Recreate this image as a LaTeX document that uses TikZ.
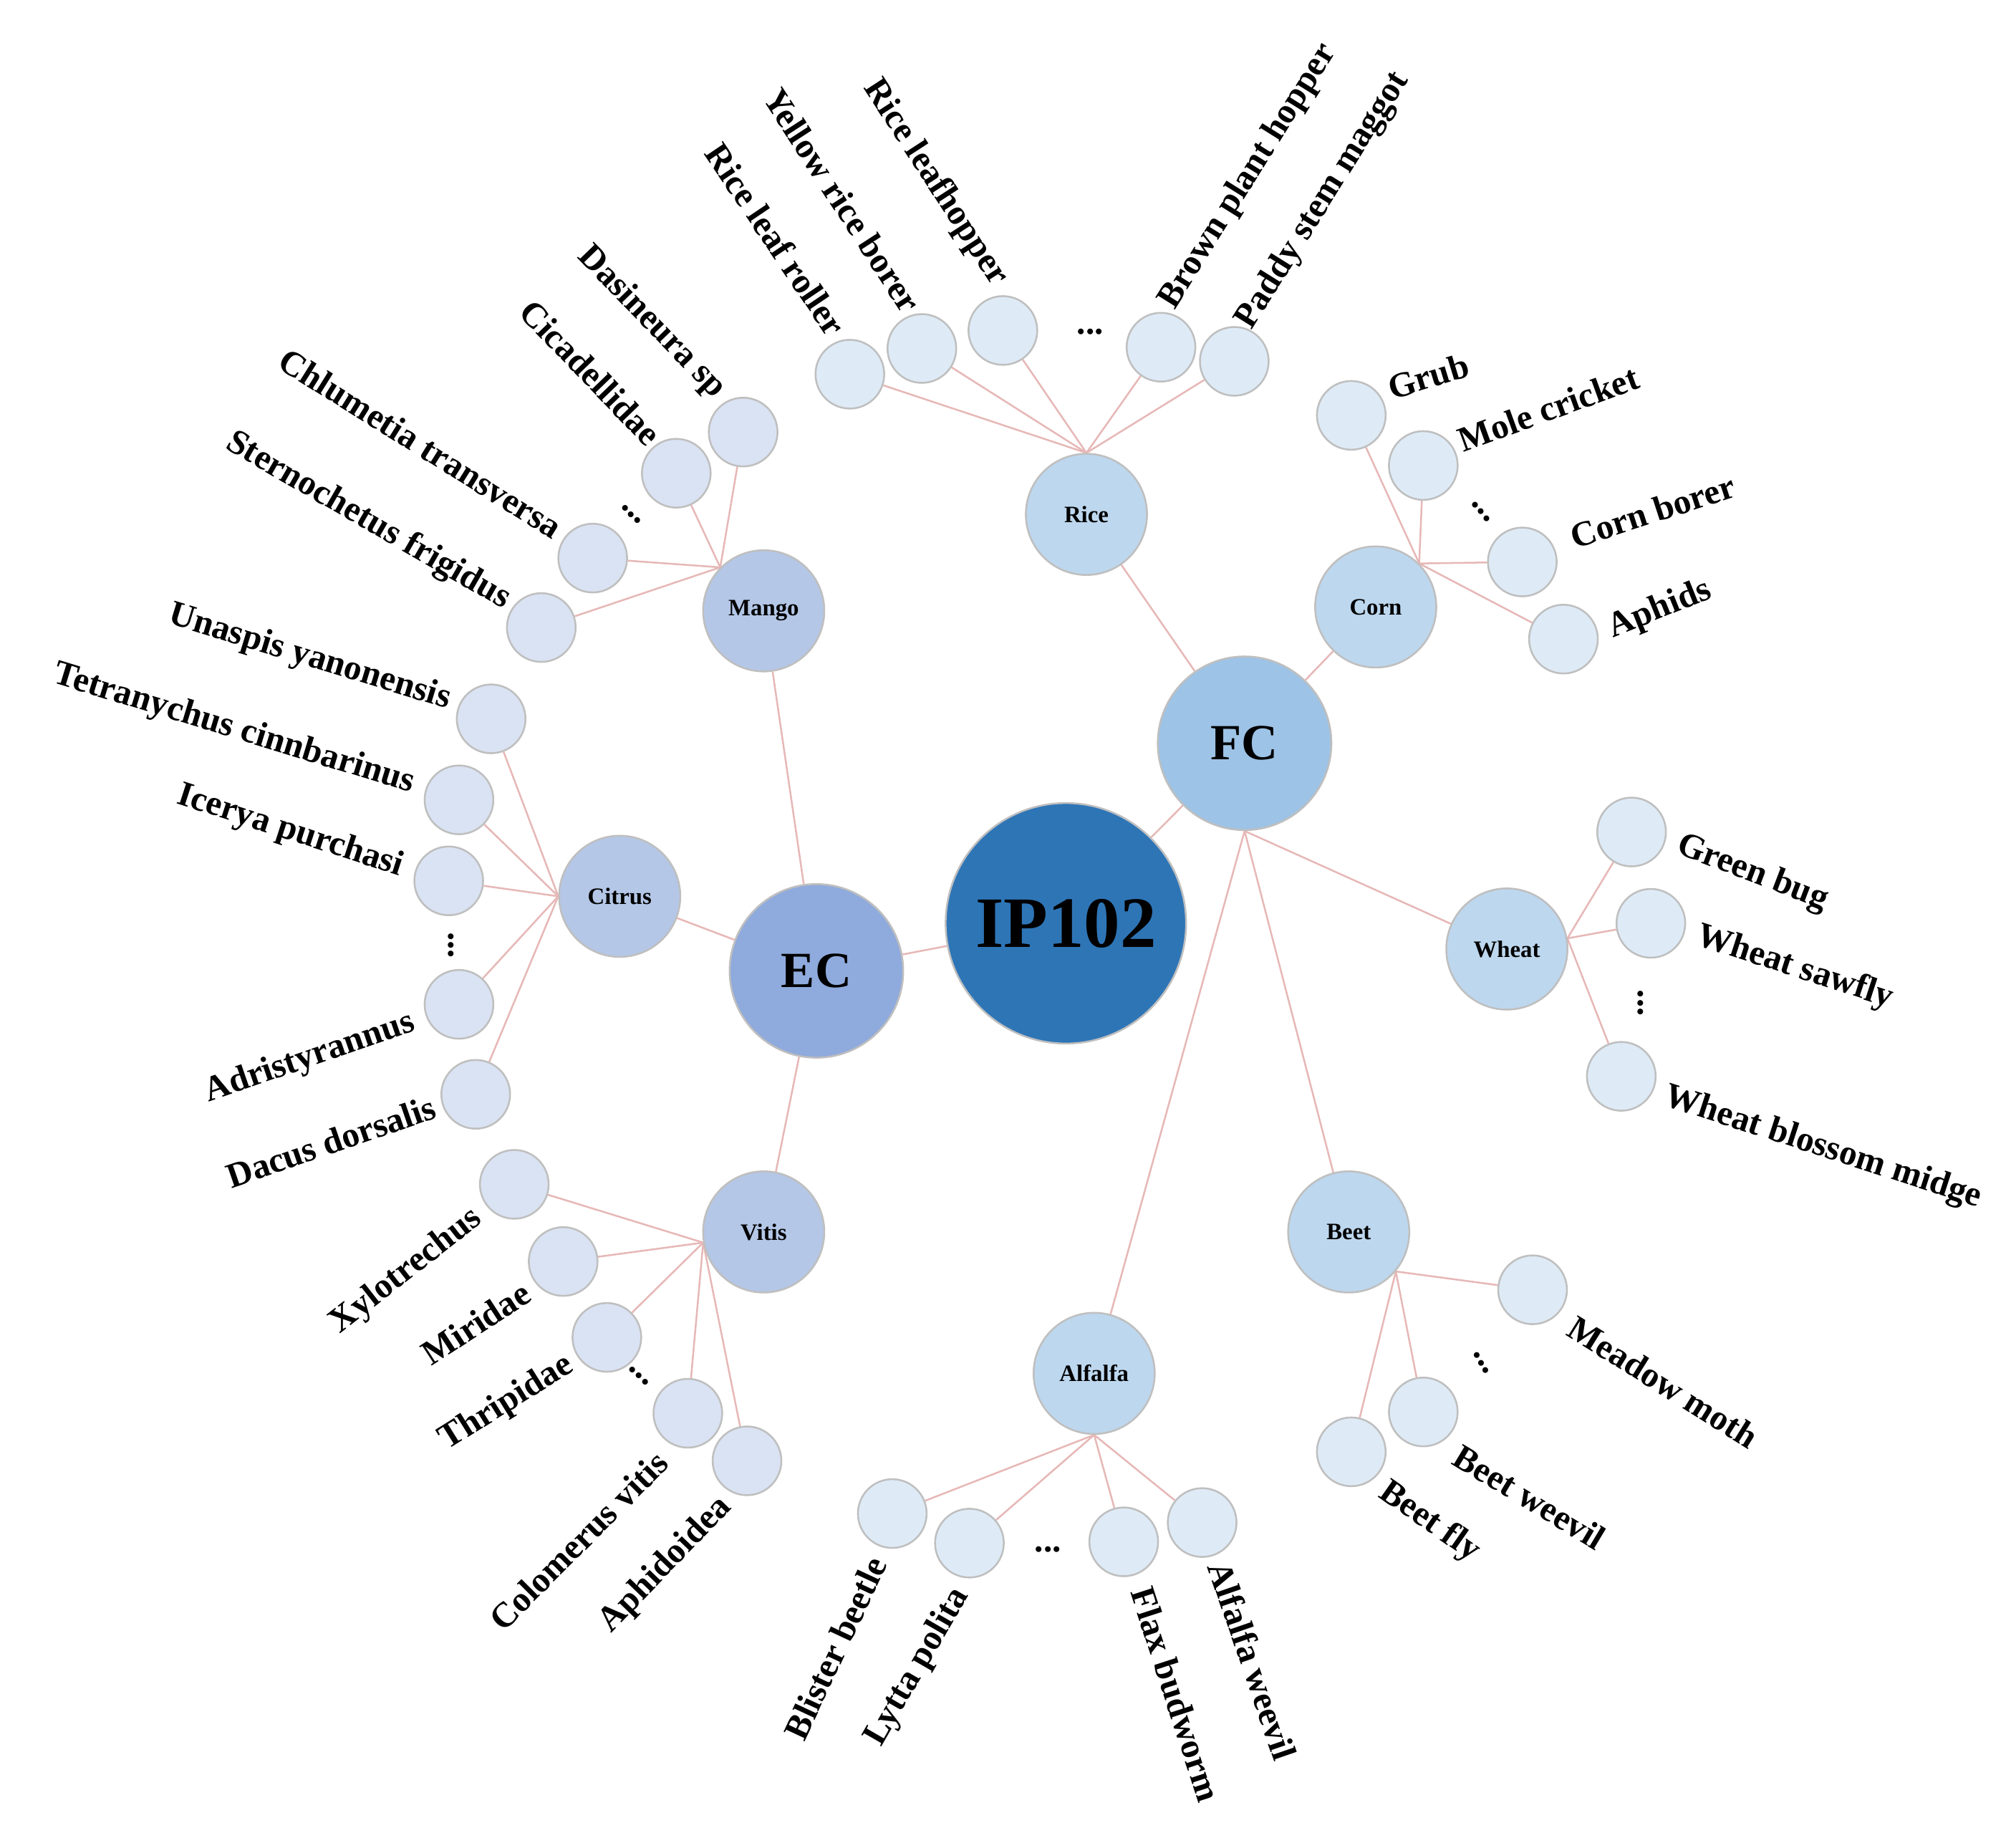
\documentclass[tikz,border=0pt]{standalone}
\usepackage{fontspec}
\setmainfont{Liberation Serif}
\usetikzlibrary{backgrounds}
\definecolor{ipc}{RGB}{46,117,182}
\definecolor{fcc}{RGB}{157,195,230}
\definecolor{ecc}{RGB}{143,170,220}
\definecolor{fmid}{RGB}{189,215,238}
\definecolor{emid}{RGB}{180,199,231}
\definecolor{fleaf}{RGB}{222,235,247}
\definecolor{eleaf}{RGB}{218,227,243}
\definecolor{edg}{RGB}{230,184,183}
\definecolor{brd}{RGB}{191,191,191}
\tikzset{
 base/.style={circle,draw=brd,line width=1pt,inner sep=0pt,font=\bfseries},
 root/.style={base,fill=ipc,minimum size=133pt,font=\bfseries\fontsize{40}{44}\selectfont},
 big/.style={base,minimum size=96pt,font=\bfseries\fontsize{28}{32}\selectfont},
 mid/.style={base,minimum size=67pt,font=\bfseries\fontsize{13}{15}\selectfont},
 fl/.style={base,fill=fleaf,minimum size=38pt},
 el/.style={base,fill=eleaf,minimum size=38pt},
 lab/.style={inner sep=0pt,font=\bfseries\fontsize{19.5}{22}\selectfont},
 dt/.style={inner sep=0pt,font=\bfseries\fontsize{19.5}{22}\selectfont},
 ed/.style={draw=edg,line width=1pt}
}
\begin{document}
\begin{tikzpicture}[x=0.025cm,y=-0.025cm]
\useasboundingbox (0,0) rectangle (1568,1433);
\node[root] (ip) at (829,718) {IP102};
\node[big,fill=fcc] (fc) at (968,578) {FC};
\node[big,fill=ecc] (ec) at (635,755) {EC};
\node[mid,fill=fmid] (rice) at (845,400) {Rice};
\node[mid,fill=fmid] (corn) at (1070,472) {Corn};
\node[mid,fill=fmid] (wheat) at (1172,738) {Wheat};
\node[mid,fill=fmid] (beet) at (1049,958) {Beet};
\node[mid,fill=fmid] (alf) at (851,1068) {Alfalfa};
\node[mid,fill=emid] (mango) at (594,475) {Mango};
\node[mid,fill=emid] (citrus) at (482,697) {Citrus};
\node[mid,fill=emid] (vitis) at (594,958) {Vitis};
% Rice leaves
\node[fl] (r1) at (661,291) {}; \node[fl] (r2) at (717,271) {}; \node[fl] (r3) at (780,257) {};
\node[fl] (r4) at (903,270) {}; \node[fl] (r5) at (960,281) {};
\node[dt] (rd) at (848,258) {...};
\node[lab,rotate=-56,anchor=east] (rl1) at (652,258) {Rice leaf roller};
\node[lab,rotate=-57,anchor=east] (rl2) at (710,240) {Yellow rice borer};
\node[lab,rotate=-57,anchor=east] (rl3) at (778,220) {Rice leafhopper};
\node[lab,rotate=58,anchor=west] (rl4) at (908,238) {Brown plant hopper};
\node[lab,rotate=58,anchor=west] (rl5) at (968,254) {Paddy stem maggot};
% Corn leaves
\node[fl] (c1) at (1051,323) {}; \node[fl] (c2) at (1107,362) {}; \node[fl] (c3) at (1184,437) {}; \node[fl] (c4) at (1216,497) {};
\node[dt,rotate=-50] (cd) at (1152,398) {...};
\node[lab,rotate=17,anchor=west] (cl1) at (1080,302) {Grub};
\node[lab,rotate=20,anchor=west] (cl2) at (1135,343) {Mole cricket};
\node[lab,rotate=18,anchor=west] (cl3) at (1222,418) {Corn borer};
\node[lab,rotate=22,anchor=west] (cl4) at (1252,490) {Aphids};
% Wheat leaves
\node[fl] (w1) at (1269,647) {}; \node[fl] (w2) at (1284,718) {}; \node[fl] (w3) at (1261,837) {};
\node[dt,rotate=-90] (wd) at (1276,780) {...};
\node[lab,rotate=-21,anchor=west] (wl1) at (1305,657) {Green bug};
\node[lab,rotate=-18,anchor=west] (wl2) at (1320,728) {Wheat sawfly};
\node[lab,rotate=-18,anchor=west] (wl3) at (1295,853) {Wheat blossom midge};
% Beet leaves
\node[fl] (b1) at (1192,1003) {}; \node[fl] (b2) at (1107,1098) {}; \node[fl] (b3) at (1051,1129) {};
\node[dt,rotate=-60] (bd) at (1152,1060) {...};
\node[lab,rotate=-32,anchor=west] (bl1) at (1222,1030) {Meadow moth};
\node[lab,rotate=-31,anchor=west] (bl2) at (1133,1130) {Beet weevil};
\node[lab,rotate=-35,anchor=west] (bl3) at (1075,1158) {Beet fly};
% Alfalfa leaves
\node[fl] (a1) at (694,1177) {}; \node[fl] (a2) at (754,1200) {}; \node[fl] (a3) at (874,1199) {}; \node[fl] (a4) at (935,1184) {};
\node[dt] (ad) at (815,1205) {...};
\node[lab,rotate=65,anchor=east] (al1) at (682,1212) {Blister beetle};
\node[lab,rotate=60,anchor=east] (al2) at (748,1237) {Lytta polita};
\node[lab,rotate=-72,anchor=west] (al3) at (888,1235) {Flax budworm};
\node[lab,rotate=-71,anchor=west] (al4) at (948,1215) {Alfalfa weevil};
% Vitis leaves
\node[el] (v1) at (400,921) {}; \node[el] (v2) at (438,981) {}; \node[el] (v3) at (472,1040) {};
\node[el] (v4) at (535,1099) {}; \node[el] (v5) at (581,1136) {};
\node[dt,rotate=-45] (vd) at (497,1070) {...};
\node[lab,rotate=38,anchor=east] (vl1) at (372,945) {Xylotrechus};
\node[lab,rotate=33,anchor=east] (vl2) at (410,1003) {Miridae};
\node[lab,rotate=32,anchor=east] (vl3) at (444,1060) {Thripidae};
\node[lab,rotate=45,anchor=east] (vl4) at (515,1133) {Colomerus vitis};
\node[lab,rotate=46,anchor=east] (vl5) at (565,1168) {Aphidoidea};
% Citrus leaves
\node[el] (t1) at (382,559) {}; \node[el] (t2) at (357,622) {}; \node[el] (t3) at (349,685) {};
\node[el] (t4) at (357,781) {}; \node[el] (t5) at (370,851) {};
\node[dt,rotate=-90] (td) at (351,735) {...};
\node[lab,rotate=-17,anchor=east] (tl1) at (350,545) {Unaspis yanonensis};
\node[lab,rotate=-17,anchor=east] (tl2) at (322,610) {Tetranychus cinnbarinus};
\node[lab,rotate=-18,anchor=east] (tl3) at (313,675) {Icerya purchasi};
\node[lab,rotate=19,anchor=east] (tl4) at (322,795) {Adristyrannus};
\node[lab,rotate=19,anchor=east] (tl5) at (338,860) {Dacus dorsalis};
% Mango leaves
\node[el] (m1) at (578,336) {}; \node[el] (m2) at (526,368) {}; \node[el] (m3) at (461,434) {}; \node[el] (m4) at (421,488) {};
\node[dt,rotate=-45] (md) at (491,400) {...};
\node[lab,rotate=-46,anchor=east] (ml1) at (560,306) {Dasineura sp};
\node[lab,rotate=-46,anchor=east] (ml2) at (510,342) {Cicadellidae};
\node[lab,rotate=-32,anchor=east] (ml3) at (435,412) {Chlumetia transversa};
\node[lab,rotate=-30,anchor=east] (ml4) at (395,468) {Sternochetus frigidus};
\begin{scope}[on background layer]
\draw[ed] (ip) -- (fc); \draw[ed] (ip) -- (ec);
\draw[ed] (fc) -- (rice); \draw[ed] (fc) -- (corn);
\draw[ed] (fc.south) -- (wheat); \draw[ed] (fc.south) -- (beet); \draw[ed] (fc.south) -- (alf);
\draw[ed] (ec) -- (mango); \draw[ed] (ec) -- (citrus); \draw[ed] (ec) -- (vitis);
\foreach \l in {r1,r2,r3,r4,r5} \draw[ed] (rice.90) -- (\l);
\foreach \l in {c1,c2,c3,c4} \draw[ed] (corn.45) -- (\l);
\foreach \l in {w1,w2,w3} \draw[ed] (wheat.10) -- (\l);
\foreach \l in {b1,b2,b3} \draw[ed] (beet.-40) -- (\l);
\foreach \l in {a1,a2,a3,a4} \draw[ed] (alf.-90) -- (\l);
\foreach \l in {v1,v2,v3,v4,v5} \draw[ed] (vitis.190) -- (\l);
\foreach \l in {t1,t2,t3,t4,t5} \draw[ed] (citrus.180) -- (\l);
\foreach \l in {m1,m2,m3,m4} \draw[ed] (mango.135) -- (\l);
\end{scope}
\end{tikzpicture}
\end{document}
